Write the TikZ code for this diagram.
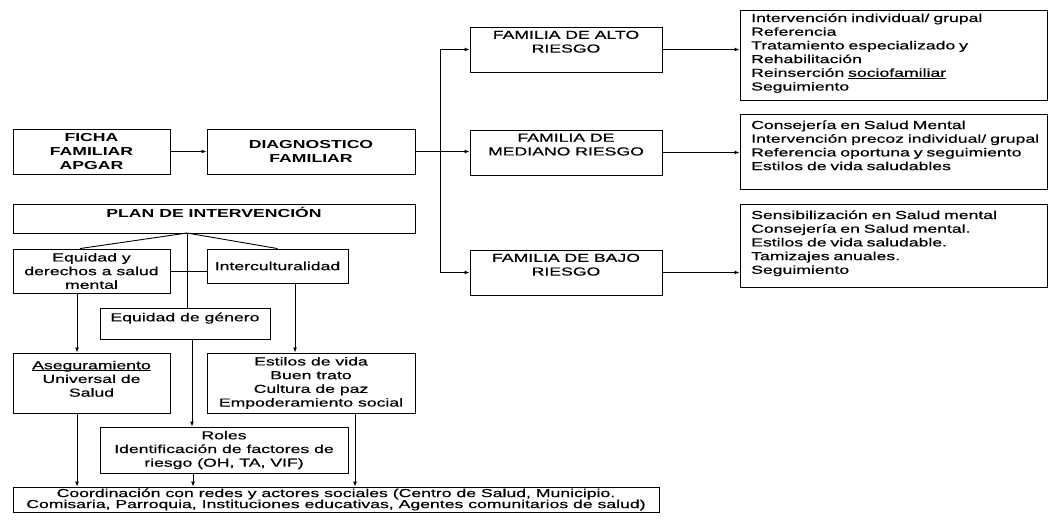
\documentclass[tikz,border=0pt]{standalone}
\usepackage{fontspec}
\setmainfont{Liberation Sans}[FakeStretch=1.52, UprightFeatures={FakeBold=0.6}]
\usetikzlibrary{arrows.meta}
\newcommand\fsz{\fontsize{11.6}{13.7}\selectfont}
\begin{document}
\begin{tikzpicture}[x=1pt,y=-1pt,
  box/.style={draw, line width=0.9pt, inner sep=0pt, align=center, font=\fsz},
  toplbl/.style={anchor=north, inner sep=0pt, align=center, font=\fsz},
  rtext/.style={anchor=base west, text width=292pt, align=left, inner sep=0pt, font=\fsz},
  arr/.style={line width=0.9pt, -{Latex[length=5pt,width=4pt]}},
  ln/.style={line width=0.9pt}]
\useasboundingbox (0,0) rectangle (1049,520);

% left column
\node[box, minimum width=157pt, minimum height=45pt, font=\fsz\bfseries] (ficha) at (91.5,151.5) {FICHA\\FAMILIAR\\APGAR};
\node[box, minimum width=208pt, minimum height=45pt, font=\fsz\bfseries] (diag) at (311,151.5) {DIAGNOSTICO\\FAMILIAR};
\node[box, minimum width=402pt, minimum height=29pt,
  label={[toplbl, yshift=-3pt, font=\fsz\bfseries]north:{PLAN DE INTERVENCIÓN}}] (plan) at (214,218.5) {};
\node[box, minimum width=157pt, minimum height=44pt] (eq) at (91.5,271) {Equidad y\\derechos a salud\\mental};
\node[box, minimum width=141pt, minimum height=34pt] (inter) at (277.5,266) {Interculturalidad};
\node[box, minimum width=170pt, minimum height=31pt,
  label={[toplbl, yshift=-5pt]north:{Equidad de género}}] (gen) at (185,323.5) {};
\node[box, minimum width=157pt, minimum height=60pt] (aseg) at (91.5,383) {\underline{\smash{Aseguramiento}}\\Universal de\\Salud};
\node[box, minimum width=208pt, minimum height=60pt] (est) at (311,383) {Estilos de vida\\Buen trato\\Cultura de paz\\Empoderamiento social};
\node[box, minimum width=248pt, minimum height=46pt] (roles) at (224,450) {Roles\\Identificación de factores de\\riesgo (OH, TA, VIF)};
\node[box, minimum width=646pt, minimum height=25pt, font=\fontsize{11.6}{11}\selectfont] (coord) at (336,499.5) {Coordinación con redes y actores sociales (Centro de Salud, Municipio.\\Comisaria, Parroquia, Instituciones educativas, Agentes comunitarios de salud)};

% family boxes
\node[box, minimum width=192pt, minimum height=45pt,
  label={[toplbl, yshift=-4pt]north:{FAMILIA DE ALTO\\RIESGO}}] (alto) at (566,49.5) {};
\node[box, minimum width=192pt, minimum height=45pt,
  label={[toplbl, yshift=-4pt]north:{FAMILIA DE\\MEDIANO RIESGO}}] (med) at (566,152.5) {};
\node[box, minimum width=192pt, minimum height=45pt,
  label={[toplbl, yshift=-4pt]north:{FAMILIA DE BAJO\\RIESGO}}] (bajo) at (566,272.5) {};

% right boxes
\node[box, minimum width=307pt, minimum height=90pt] (r1) at (893.5,55) {};
\node[box, minimum width=307pt, minimum height=75pt] (r2) at (893.5,151.5) {};
\node[box, minimum width=307pt, minimum height=83pt] (r3) at (893.5,245.5) {};
\node[rtext] (t1) at (751,22) {Intervención individual/ grupal\\Referencia\\Tratamiento especializado y\\Rehabilitación\\Reinserción \underline{\smash{sociofamiliar}}\\Seguimiento};
\node[rtext] (t2) at (751,129) {Consejería en Salud Mental\\Intervención precoz individual/ grupal\\Referencia oportuna y seguimiento\\Estilos de vida saludables};
\node[rtext] (t3) at (751,219) {Sensibilización en Salud mental\\Consejería en Salud mental.\\Estilos de vida saludable.\\Tamizajes anuales.\\Seguimiento};

% connectors
\draw[arr] (ficha.east) -- (diag.west);
\coordinate (j) at (440,151.5);
\draw[arr] (diag.east) -- (diag.east -| med.west);
\draw[arr] (j) |- (alto.west);
\draw[arr] (j) |- (bajo.west);
\draw[arr] (alto.east) -- (alto.east -| r1.west);
\draw[arr] (med.east) -- (med.east -| r2.west);
\draw[arr] (bajo.east) -- (bajo.east -| r3.west);

\coordinate (pc) at (187,233);
\draw[ln] (pc) -- ([xshift=-11.5pt]eq.north);
\draw[ln] (pc) -- (inter.north);
\draw[ln] (pc) -- (pc |- gen.north);
\draw[ln] (eq.east) -- (eq.east -| inter.west);

\draw[arr] ([xshift=-14.5pt]eq.south) -- ([xshift=-14.5pt]eq.south |- aseg.north);
\draw[arr] ([xshift=17.5pt]inter.south) -- ([xshift=17.5pt]inter.south |- est.north);
\draw[arr] ([xshift=7pt]gen.south) -- ([xshift=7pt]gen.south |- roles.north);
\draw[arr] ([xshift=-14.5pt]aseg.south) -- ([xshift=-14.5pt]aseg.south |- coord.north);
\draw[arr] ([xshift=-31pt]roles.south) -- ([xshift=-31pt]roles.south |- coord.north);
\draw[arr] ([xshift=44pt]est.south) -- ([xshift=44pt]est.south |- coord.north);
\end{tikzpicture}
\end{document}
